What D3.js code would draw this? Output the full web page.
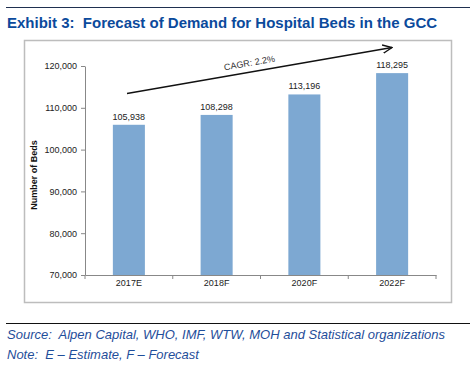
<!DOCTYPE html>
<html>
<head>
<meta charset="utf-8">
<script src="https://cdn.jsdelivr.net/npm/d3@7"></script>
<style>
  body { margin: 0; background: #fff; }
  svg { font-family: "Liberation Sans", Arial, sans-serif; }
  text { white-space: pre; }
</style>
</head>
<body>
<div id="content"></div>
<script>
// chart data
var categories = ["2017E", "2018F", "2020F", "2022F"];
var beds = [105938, 108298, 113196, 118295];
var yTicks = [70000, 80000, 90000, 100000, 110000, 120000];
var cagrLabel = "CAGR: 2.2%";

var width = 474, height = 376;

var svg = d3.select("#content")
  .append("svg")
    .attr("width", width)
    .attr("height", height)

// top rule + title
svg.append("line")
  .attr("x1", 6).attr("x2", 470)
  .attr("y1", 7.5).attr("y2", 7.5)
  .attr("stroke", "#1f3050")
  .attr("stroke-width", 1.2)

svg.append("text")
  .attr("x", 7)
  .attr("y", 28)
  .attr("fill", "#0b4a9c")
  .style("font-size", "15px")
  .style("font-weight", "bold")
  .text("Exhibit 3:  Forecast of Demand for Hospital Beds in the GCC")

// chart frame
svg.append("rect")
  .attr("x", 24.5).attr("y", 40.5)
  .attr("width", 427).attr("height", 262)
  .attr("fill", "#fff")
  .attr("stroke", "#bdbdbd")
  .attr("stroke-width", 1.5)

var plot = {left: 85, right: 436, top: 66, bottom: 275}

var x = d3.scaleBand()
  .domain(categories)
  .range([plot.left, plot.right])

var y = d3.scaleLinear()
  .domain([70000, 120000])
  .range([plot.bottom, plot.top])

var barW = x.bandwidth() * 0.365

// bars
svg.selectAll(".bar")
  .data(beds)
  .enter().append("rect")
    .attr("class", "bar")
    .attr("x", function(d, i){ return x(categories[i]) + x.bandwidth()/2 - barW/2 })
    .attr("y", function(d){ return y(d) })
    .attr("width", barW)
    .attr("height", function(d){ return y(70000) - y(d) })
    .attr("fill", "#7da8d2")

// value labels
svg.selectAll(".val")
  .data(beds)
  .enter().append("text")
    .attr("class", "val")
    .attr("x", function(d, i){ return x(categories[i]) + x.bandwidth()/2 })
    .attr("y", function(d){ return y(d) - 5 })
    .attr("text-anchor", "middle")
    .attr("fill", "#222")
    .style("font-size", "9px")
    .text(d3.format(","))

// y axis
var yAxis = svg.append("g")
  .attr("transform", "translate(" + plot.left + ",0)")
  .call(d3.axisLeft(y).tickValues(yTicks).tickFormat(d3.format(",")).tickSize(4).tickSizeOuter(0))
yAxis.select(".domain").attr("stroke", "#888")
yAxis.selectAll(".tick line").attr("stroke", "#888")
yAxis.selectAll(".tick text")
  .attr("fill", "#222")
  .attr("x", -8)
  .style("font-size", "9px")
  .style("font-family", "Liberation Sans, Arial, sans-serif")

// x axis
var xAxis = svg.append("g")
  .attr("transform", "translate(0," + plot.bottom + ")")
  .call(d3.axisBottom(x).tickSize(0).tickSizeOuter(0))
xAxis.select(".domain").attr("stroke", "#888")
xAxis.selectAll(".tick text")
  .attr("fill", "#222")
  .attr("dy", "0.71em")
  .attr("y", 5)
  .style("font-size", "9px")
  .style("font-family", "Liberation Sans, Arial, sans-serif")

// boundary ticks between categories
var bounds = categories.map(function(c){ return x(c) }).concat([plot.right])
svg.selectAll(".xtick")
  .data(bounds)
  .enter().append("line")
    .attr("x1", function(d){ return d }).attr("x2", function(d){ return d })
    .attr("y1", plot.bottom).attr("y2", plot.bottom + 4)
    .attr("stroke", "#888")

// axis title
svg.append("text")
  .attr("transform", "translate(37,175) rotate(-90)")
  .attr("text-anchor", "middle")
  .attr("fill", "#111")
  .style("font-size", "9px")
  .style("font-weight", "bold")
  .text("Number of Beds")

// CAGR arrow
svg.append("defs").append("marker")
  .attr("id", "arrow")
  .attr("viewBox", "0 0 10 10")
  .attr("refX", 9).attr("refY", 5)
  .attr("markerWidth", 8).attr("markerHeight", 8)
  .attr("orient", "auto")
  .append("path")
    .attr("d", "M0,1 L9,5 L0,9")
    .attr("fill", "none")
    .attr("stroke", "#111")
    .attr("stroke-width", 1.3)

var a0 = [127, 93.5], a1 = [392, 47.5]
svg.append("line")
  .attr("x1", a0[0]).attr("y1", a0[1])
  .attr("x2", a1[0]).attr("y2", a1[1])
  .attr("stroke", "#111")
  .attr("stroke-width", 1.3)
  .attr("marker-end", "url(#arrow)")

var ang = Math.atan2(a1[1] - a0[1], a1[0] - a0[0]) * 180 / Math.PI
svg.append("text")
  .attr("transform", "translate(250,66) rotate(" + ang + ")")
  .attr("text-anchor", "middle")
  .attr("fill", "#333")
  .style("font-size", "9px")
  .text(cagrLabel)

// footer
svg.append("line")
  .attr("x1", 6).attr("x2", 470)
  .attr("y1", 323.5).attr("y2", 323.5)
  .attr("stroke", "#111")
  .attr("stroke-width", 1.2)

svg.append("text")
  .attr("x", 7).attr("y", 339)
  .attr("fill", "#1f4e9a")
  .style("font-size", "13px")
  .style("font-style", "italic")
  .text("Source:  Alpen Capital, WHO, IMF, WTW, MOH and Statistical organizations")

svg.append("text")
  .attr("x", 7).attr("y", 359)
  .attr("fill", "#1f4e9a")
  .style("font-size", "13px")
  .style("font-style", "italic")
  .text("Note:  E \u2013 Estimate, F \u2013 Forecast")
</script>
</body>
</html>
